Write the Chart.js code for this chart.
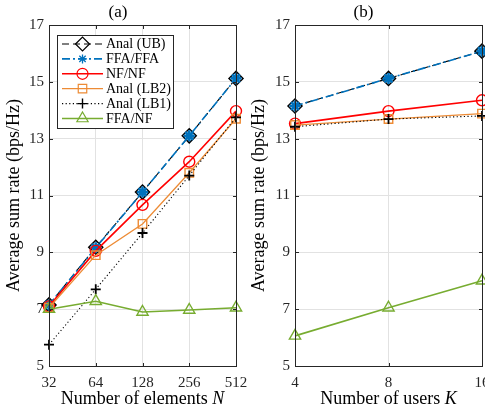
<!DOCTYPE html>
<html><head><meta charset="utf-8">
<script src="https://cdn.jsdelivr.net/npm/chart.js@4.4.1/dist/chart.umd.min.js"></script>
<style>
html,body{margin:0;padding:0;background:#fff;overflow:hidden;width:485px;height:411px;position:relative;}
#ca{position:absolute;left:0;top:0;}
#cb{position:absolute;left:245px;top:0;}
</style></head><body>
<canvas id="ca" width="270" height="411"></canvas>
<canvas id="cb" width="265" height="411"></canvas>
<script>
// ---- data ----
const categoriesN = ['32', '64', '128', '256', '512'];
const categoriesK = ['4', '8', '16'];
const yTicks = [5, 7, 9, 11, 13, 15, 17];
const seriesNames = ['Anal (UB)', 'FFA/FFA', 'NF/NF', 'Anal (LB2)', 'Anal (LB1)', 'FFA/NF'];

const ubN    = [7.15, 9.18, 11.12, 13.10, 15.12];
const ffaN   = [7.15, 9.16, 11.12, 13.10, 15.12];
const nfN    = [7.10, 9.05, 10.67, 12.19, 13.97];
const lb2N   = [7.05, 8.90, 10.00, 11.80, 13.70];
const lb1N   = [5.75, 7.70, 9.68, 11.70, 13.75];
const ffanfN = [7.00, 7.28, 6.90, 6.97, 7.05];

const ubK    = [14.15, 15.12, 16.08];
const ffaK   = [14.15, 15.12, 16.08];
const nfK    = [13.53, 13.97, 14.35];
const lb2K   = [13.48, 13.69, 13.88];
const lb1K   = [13.42, 13.69, 13.80];
const ffanfK = [6.06, 7.05, 8.00];

// ---- styles ----
const SERIF = '"Liberation Serif", "Times New Roman", serif';
const AXC = '#262626';
const styles = [
  {color: '#000000', dash: [7, 4],       ps: 'rectRot',  r: 7,   pw: 1.5, lpw: 1.2, lw: 1.1, order: 7},
  {color: '#0072BD', dash: [8, 3, 2, 3], ps: 'star',     r: 5.5, pw: 2.6, lpw: 1.3, lr: 4.5, lw: 1.6, order: 6},
  {color: '#FF0000', dash: [],           ps: 'circle',   r: 5.5, pw: 1.4, lpw: 1.2, lw: 1.6, order: 5},
  {color: '#ED8B35', dash: [],           ps: 'rect',     r: 6,   pw: 1.4, lpw: 1.2, lw: 1.3, order: 4},
  {color: '#000000', dash: [1.2, 2.4],   ps: 'cross',    r: 5,   pw: 1.8, lpw: 1.4, lw: 1.1, order: 3},
  {color: '#77AC30', dash: [],           ps: 'triangle', r: 6.5, pw: 1.4, lpw: 1.2, lw: 1.6, order: 1}
];

function mkDatasets(vals) {
  return seriesNames.map((name, i) => ({
    label: name,
    data: vals[i],
    borderColor: styles[i].color,
    backgroundColor: 'rgba(0,0,0,0)',
    pointBackgroundColor: 'rgba(0,0,0,0)',
    pointBorderColor: styles[i].color,
    borderWidth: styles[i].lw,
    borderDash: styles[i].dash,
    pointStyle: styles[i].ps,
    pointRadius: styles[i].r,
    pointHoverRadius: styles[i].r,
    pointBorderWidth: styles[i].pw,
    fill: false,
    tension: 0,
    clip: false,
    order: styles[i].order
  }));
}

const al = v => Math.round(v) + 0.5;

const framePlugin = {
  id: 'frame',
  afterDraw(chart) {
    const {ctx, chartArea: a, scales} = chart;
    const L = al(a.left), R = al(a.right), T = al(a.top), B = al(a.bottom);
    ctx.save();
    ctx.strokeStyle = AXC; ctx.lineWidth = 1; ctx.setLineDash([]);
    ctx.strokeRect(L, T, R - L, B - T);
    const tl = 3.5;
    ctx.beginPath();
    scales.x.ticks.forEach((t, i) => {
      const p = al(scales.x.getPixelForTick(i));
      ctx.moveTo(p, B); ctx.lineTo(p, B - tl);
      ctx.moveTo(p, T); ctx.lineTo(p, T + tl);
    });
    scales.y.ticks.forEach((t) => {
      const p = al(scales.y.getPixelForValue(t.value));
      ctx.moveTo(L, p); ctx.lineTo(L + tl, p);
      ctx.moveTo(R, p); ctx.lineTo(R - tl, p);
    });
    ctx.stroke();
    // x title with italic variable
    const o = chart.options.plugins.xtitle;
    ctx.fillStyle = '#000';
    ctx.textBaseline = 'alphabetic';
    ctx.font = '18px ' + SERIF;
    const w1 = ctx.measureText(o.main).width;
    ctx.font = 'italic 18px ' + SERIF;
    const w2 = ctx.measureText(o.ital).width;
    const cx = (a.left + a.right) / 2;
    const x0 = cx - (w1 + w2) / 2;
    ctx.font = '18px ' + SERIF;
    ctx.textAlign = 'left';
    ctx.fillText(o.main, x0, 404);
    ctx.font = 'italic 18px ' + SERIF;
    ctx.fillText(o.ital, x0 + w1, 404);
    ctx.restore();
  }
};

const legendPlugin = {
  id: 'mlegend',
  afterDraw(chart) {
    const o = chart.options.plugins.mlegend;
    if (!o || !o.show) return;
    const {ctx, chartArea: a} = chart;
    ctx.save();
    ctx.font = '14px ' + SERIF;
    const ds = chart.data.datasets;
    let maxW = 0;
    ds.forEach(d => { maxW = Math.max(maxW, ctx.measureText(d.label).width); });
    const L = al(a.left + 8), T = al(a.top + 10);
    const rowH = 14.9;
    const lineX0 = L + 4.5, lineX1 = L + 45.5, textX = L + 48.5;
    const R = al(textX + maxW + 2), B = al(T + rowH * ds.length + 3);
    ctx.fillStyle = '#fff';
    ctx.fillRect(L, T, R - L, B - T);
    ctx.strokeStyle = AXC; ctx.lineWidth = 1; ctx.setLineDash([]);
    ctx.strokeRect(L, T, R - L, B - T);
    ds.forEach((d, i) => {
      const st = styles[i];
      const y = T + 8.5 + i * rowH;
      ctx.strokeStyle = d.borderColor;
      ctx.lineWidth = d.borderWidth;
      ctx.setLineDash(d.borderDash);
      ctx.beginPath(); ctx.moveTo(lineX0, y); ctx.lineTo(lineX1, y); ctx.stroke();
      ctx.setLineDash([]);
      ctx.fillStyle = 'rgba(0,0,0,0)';
      ctx.strokeStyle = d.pointBorderColor;
      ctx.lineWidth = st.lpw;
      Chart.helpers.drawPoint(ctx, {pointStyle: d.pointStyle, radius: st.lr || d.pointRadius, borderWidth: st.lpw, rotation: 0}, (lineX0 + lineX1) / 2, y);
      ctx.fillStyle = '#000';
      ctx.textBaseline = 'middle';
      ctx.textAlign = 'left';
      ctx.fillText(d.label, textX, y + 0.5);
    });
    ctx.restore();
  }
};

function makeChart(id, labels, vals, title, xMain, xItal, showLegend, yW, padR) {
  return new Chart(document.getElementById(id), {
    type: 'line',
    data: {labels: labels, datasets: mkDatasets(vals)},
    plugins: [framePlugin, legendPlugin],
    options: {
      responsive: false,
      animation: false,
      devicePixelRatio: 1,
      layout: {padding: {left: 0, right: padR, top: 0, bottom: 0}},
      plugins: {
        legend: {display: false},
        tooltip: {enabled: false},
        title: {display: true, text: title, color: '#000',
                font: {family: SERIF, size: 17, weight: 'normal'},
                padding: {top: 2, bottom: 2.6}},
        xtitle: {main: xMain, ital: xItal},
        mlegend: {show: showLegend}
      },
      scales: {
        x: {
          type: 'category',
          offset: false,
          grid: {color: '#e2e2e2', lineWidth: 1, drawTicks: false},
          border: {display: false},
          ticks: {color: AXC, font: {family: SERIF, size: 15}, padding: 8, maxRotation: 0, autoSkip: false},
          afterFit(s) { s.height = 45; }
        },
        y: {
          min: 5, max: 17,
          grid: {color: '#e2e2e2', lineWidth: 1, drawTicks: false},
          border: {display: false},
          afterBuildTicks(s) { s.ticks = yTicks.map(v => ({value: v})); },
          ticks: {color: AXC, font: {family: SERIF, size: 15}, padding: 5},
          title: {display: true, text: 'Average sum rate (bps/Hz)', color: '#000',
                  font: {family: SERIF, size: 18, weight: 'normal'}, padding: {top: 3, bottom: 0}},
          afterFit(s) { s.width = yW; }
        }
      }
    }
  });
}

makeChart('ca', categoriesN, [ubN, ffaN, nfN, lb2N, lb1N, ffanfN], '(a)', 'Number of elements ', 'N', true, 49, 34);
makeChart('cb', categoriesK, [ubK, ffaK, nfK, lb2K, lb1K, ffanfK], '(b)', 'Number of users ', 'K', false, 50, 28);
</script>
</body></html>
